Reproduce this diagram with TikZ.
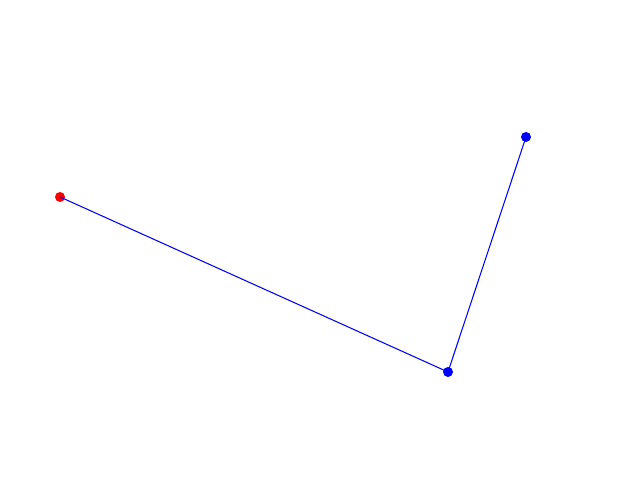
\documentclass[tikz,border=0pt]{standalone}
\usetikzlibrary{positioning}

\begin{document}
\begin{tikzpicture}
  [
    dot red/.style={circle,fill=red,draw=none,minimum size=0.1cm,inner sep=0pt},
    dot blue/.style={circle,fill=blue,draw=none,minimum size=0.1cm,inner sep=0pt},
    link/.style={draw=blue,line width=0.3pt},
  ]
  \useasboundingbox (0,0) rectangle (6.4,4.8);

  \node[dot red] (p1) at (0.60,2.83) {};
  \node[dot blue] (p2) at (4.48,1.08) {};
  \node[dot blue] (p3) at (5.26,3.43) {};

  \draw[link] (p1.center) -- (p2.center);
  \draw[link] (p2.center) -- (p3.center);

  %\draw (0,0) grid (6.4,4.8);
\end{tikzpicture}
\end{document}
